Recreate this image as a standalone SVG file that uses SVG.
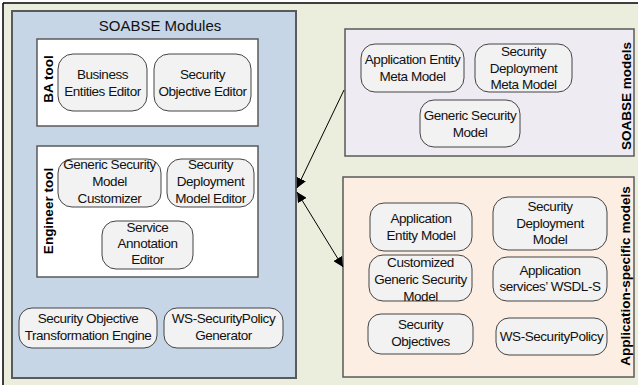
<svg xmlns="http://www.w3.org/2000/svg" width="638" height="385" viewBox="0 0 638 385">
  <style>
    .frame { fill: #EBEEDD; stroke: none; }
    .edge { stroke: #000; stroke-width: 1.5; fill: none; }
    .modules { fill: #C7D6E6; stroke: #5A5A5A; stroke-width: 2; }
    .tool { fill: #FFFFFF; stroke: #5A5A5A; stroke-width: 1.5; }
    .meta { fill: #EEEBF3; stroke: #5A5A5A; stroke-width: 1.5; }
    .app { fill: #FCEEE3; stroke: #5A5A5A; stroke-width: 1.5; }
    .node rect { fill: #F2F2F2; stroke: #444; stroke-width: 1; }
    text { font-family: "Liberation Sans", Arial, sans-serif; fill: #111; }
    .lbl { font-size: 13.5px; letter-spacing: -0.45px; text-anchor: middle; }
    .title { font-size: 15px; text-anchor: middle; }
    .side { font-size: 13.5px; font-weight: bold; text-anchor: middle; fill: #000; }
    .conn { stroke: #000; stroke-width: 1; fill: none; }
  </style>
  <defs>
    <marker id="head" viewBox="0 0 10 10" refX="10" refY="5" markerWidth="10" markerHeight="10" markerUnits="userSpaceOnUse" orient="auto-start-reverse">
      <path d="M0,0 L10,5 L0,10 Z" fill="#000"/>
    </marker>
  </defs>

  <!-- page background and frame -->
  <rect width="638" height="385" fill="#FFFFFF"/>
  <rect class="frame" x="3" y="3" width="635" height="382"/>
  <line class="edge" x1="3" y1="3" x2="638" y2="3"/>
  <line class="edge" x1="3" y1="3" x2="3" y2="385"/>

  <!-- SOABSE Modules container -->
  <g id="soabse-modules">
    <rect class="modules" x="12" y="11" width="284" height="367"/>
    <text class="title" x="160" y="31">SOABSE Modules</text>
  </g>

  <!-- BA tool -->
  <g id="ba-tool">
    <rect class="tool" x="37" y="39" width="221" height="87"/>
    <text class="side" transform="translate(53,79) rotate(-90)">BA tool</text>
  </g>
  <g id="business-entities-editor" class="node">
    <rect x="58" y="54" width="89" height="57" rx="15"/>
    <text class="lbl" x="102.5" y="78.7">Business</text>
    <text class="lbl" x="102.5" y="95.7">Entities Editor</text>
  </g>
  <g id="security-objective-editor" class="node">
    <rect x="154" y="54" width="97" height="57" rx="15"/>
    <text class="lbl" x="202.5" y="78.7">Security</text>
    <text class="lbl" x="202.5" y="95.7">Objective Editor</text>
  </g>

  <!-- Engineer tool -->
  <g id="engineer-tool">
    <rect class="tool" x="37" y="146" width="221" height="131"/>
    <text class="side" transform="translate(53,211) rotate(-90)">Engineer tool</text>
  </g>
  <g id="generic-security-model-customizer" class="node">
    <rect x="58" y="159" width="103" height="48" rx="14"/>
    <text class="lbl" x="109.5" y="169">Generic Security</text>
    <text class="lbl" x="109.5" y="186">Model</text>
    <text class="lbl" x="109.5" y="203">Customizer</text>
  </g>
  <g id="security-deployment-model-editor" class="node">
    <rect x="167" y="159" width="87" height="48" rx="14"/>
    <text class="lbl" x="210.5" y="169">Security</text>
    <text class="lbl" x="210.5" y="186">Deployment</text>
    <text class="lbl" x="210.5" y="203">Model Editor</text>
  </g>
  <g id="service-annotation-editor" class="node">
    <rect x="102" y="221" width="91" height="48" rx="14"/>
    <text class="lbl" x="147.5" y="232">Service</text>
    <text class="lbl" x="147.5" y="248">Annotation</text>
    <text class="lbl" x="147.5" y="264">Editor</text>
  </g>

  <!-- engines -->
  <g id="security-objective-transformation-engine" class="node">
    <rect x="19" y="308" width="138" height="40" rx="13"/>
    <text class="lbl" x="88" y="323">Security Objective</text>
    <text class="lbl" x="88" y="340">Transformation Engine</text>
  </g>
  <g id="ws-securitypolicy-generator" class="node">
    <rect x="164" y="308" width="119" height="40" rx="13"/>
    <text class="lbl" x="223.5" y="323">WS-SecurityPolicy</text>
    <text class="lbl" x="223.5" y="340">Generator</text>
  </g>

  <!-- SOABSE models -->
  <g id="soabse-models">
    <rect class="meta" x="345" y="29" width="289" height="127"/>
    <text class="side" transform="translate(631,96) rotate(-90)">SOABSE models</text>
  </g>
  <g id="application-entity-meta-model" class="node">
    <rect x="361" y="44" width="103" height="48" rx="14"/>
    <text class="lbl" x="412.5" y="64">Application Entity</text>
    <text class="lbl" x="412.5" y="81">Meta Model</text>
  </g>
  <g id="security-deployment-meta-model" class="node">
    <rect x="475" y="44" width="97" height="48" rx="14"/>
    <text class="lbl" x="523.5" y="56">Security</text>
    <text class="lbl" x="523.5" y="72.5">Deployment</text>
    <text class="lbl" x="523.5" y="89">Meta Model</text>
  </g>
  <g id="generic-security-model" class="node">
    <rect x="420" y="100" width="100" height="47" rx="14"/>
    <text class="lbl" x="470" y="120">Generic Security</text>
    <text class="lbl" x="470" y="137">Model</text>
  </g>

  <!-- Application-specific models -->
  <g id="application-specific-models">
    <rect class="app" x="343" y="177" width="291" height="200"/>
    <text class="side" transform="translate(630,276) rotate(-90)">Application-specific models</text>
  </g>
  <g id="application-entity-model" class="node">
    <rect x="370" y="203" width="102" height="48" rx="14"/>
    <text class="lbl" x="421" y="223">Application</text>
    <text class="lbl" x="421" y="240">Entity Model</text>
  </g>
  <g id="security-deployment-model" class="node">
    <rect x="493" y="197" width="114" height="53" rx="15"/>
    <text class="lbl" x="550" y="211">Security</text>
    <text class="lbl" x="550" y="227.5">Deployment</text>
    <text class="lbl" x="550" y="244">Model</text>
  </g>
  <g id="customized-generic-security-model" class="node">
    <rect x="369" y="255" width="103" height="46" rx="14"/>
    <text class="lbl" x="420.5" y="266.5">Customized</text>
    <text class="lbl" x="420.5" y="283.5">Generic Security</text>
    <text class="lbl" x="420.5" y="300.5">Model</text>
  </g>
  <g id="application-services-wsdl-s" class="node">
    <rect x="493" y="257" width="114" height="44" rx="14"/>
    <text class="lbl" x="550" y="274.5">Application</text>
    <text class="lbl" x="550" y="291">services’ WSDL-S</text>
  </g>
  <g id="security-objectives" class="node">
    <rect x="368" y="314" width="105" height="40" rx="13"/>
    <text class="lbl" x="420.5" y="329">Security</text>
    <text class="lbl" x="420.5" y="346">Objectives</text>
  </g>
  <g id="ws-securitypolicy" class="node">
    <rect x="496" y="318" width="111" height="37" rx="13"/>
    <text class="lbl" x="551.5" y="341">WS-SecurityPolicy</text>
  </g>

  <!-- connectors -->
  <g id="connectors">
    <line class="conn" x1="344" y1="90" x2="297" y2="188" marker-end="url(#head)"/>
    <line class="conn" x1="297" y1="192" x2="343" y2="267" marker-start="url(#head)" marker-end="url(#head)"/>
  </g>
</svg>
